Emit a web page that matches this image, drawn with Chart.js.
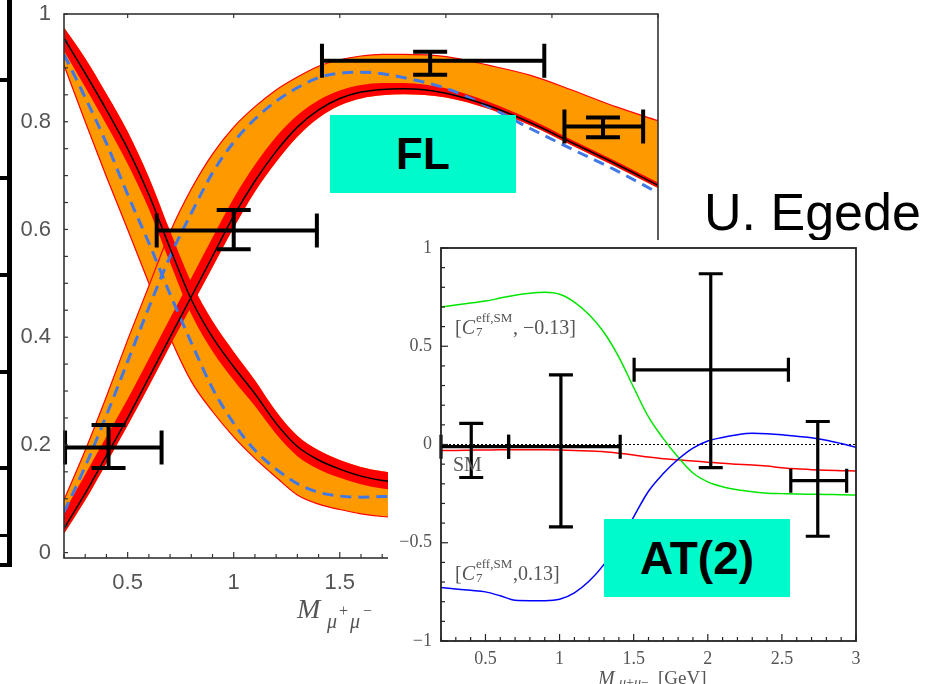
<!DOCTYPE html>
<html>
<head>
<meta charset="utf-8">
<script src="https://cdn.jsdelivr.net/npm/chart.js@4.4.1/dist/chart.umd.min.js"></script>
<style>
body { margin: 0; width: 938px; height: 684px; overflow: hidden; position: relative; background: #fff; font-family: 'Liberation Sans', Arial, sans-serif; }
.abs { position: absolute; line-height: 1; white-space: nowrap; }
.serif { font-family: 'Liberation Serif', 'Times New Roman', serif; color: #555; }
.tag { position: absolute; background: #00FACC; display: flex; align-items: center; justify-content: center; font-weight: bold; color: #000; }
.bar { position: absolute; background: #000; }
canvas { position: absolute; left: 0; }
</style>
</head>
<body>

<div class="bar" style="left:7px;top:0;width:5px;height:567px"></div>
<div class="bar" style="left:0;top:78px;width:12px;height:4px"></div>
<div class="bar" style="left:0;top:176px;width:12px;height:4px"></div>
<div class="bar" style="left:0;top:273px;width:12px;height:4px"></div>
<div class="bar" style="left:0;top:370px;width:12px;height:4px"></div>
<div class="bar" style="left:0;top:466px;width:12px;height:4px"></div>
<div class="bar" style="left:0;top:534px;width:12px;height:3px"></div>
<div class="bar" style="left:0;top:563px;width:12px;height:4px"></div>

<canvas id="flChart" width="700" height="640" style="top:0"></canvas>

<div class="abs serif" style="left:297px;top:595px;font-size:28px"><i>M</i></div>
<div class="abs serif" style="left:327px;top:611px;font-size:20px"><i>μ</i></div>
<div class="abs serif" style="left:339px;top:603px;font-size:16px">+</div>
<div class="abs serif" style="left:350px;top:611px;font-size:20px"><i>μ</i></div>
<div class="abs serif" style="left:363px;top:603px;font-size:16px">−</div>

<div class="tag" style="left:330px;top:115px;width:186px;height:78px;font-size:44px">FL</div>
<div class="abs" style="left:704px;top:186px;font-size:52px;color:#000">U. Egede</div>

<div id="inset" style="position:absolute;left:388px;top:240px;width:550px;height:444px;background:#fff">
  <canvas id="atChart" width="550" height="456" style="top:-12px"></canvas>
</div>

<div class="abs serif" style="left:455px;top:317px;font-size:20px">[<i>C</i></div>
<div class="abs serif" style="left:476px;top:311px;font-size:13px">eff,SM</div>
<div class="abs serif" style="left:476px;top:325px;font-size:13px">7</div>
<div class="abs serif" style="left:513px;top:317px;font-size:20px">, −0.13]</div>

<div class="abs serif" style="left:453px;top:454px;font-size:20px">SM</div>

<div class="abs serif" style="left:455px;top:563px;font-size:20px">[<i>C</i></div>
<div class="abs serif" style="left:476px;top:557px;font-size:13px">eff,SM</div>
<div class="abs serif" style="left:476px;top:571px;font-size:13px">7</div>
<div class="abs serif" style="left:513px;top:563px;font-size:20px">,0.13]</div>

<div class="abs serif" style="left:598px;top:668px;font-size:20px"><i>M</i></div>
<div class="abs serif" style="left:619px;top:676px;font-size:14px"><i>μ</i>+<i>μ</i>−</div>
<div class="abs serif" style="left:658px;top:668px;font-size:19px">[GeV]</div>

<div class="tag" style="left:604px;top:519px;width:186px;height:78px;font-size:46px">AT(2)</div>

<script>
// FL plot: mass bins and curves
const flX = [0.2, 0.3, 0.4, 0.5, 0.6, 0.7, 0.8, 0.9, 1.0, 1.1, 1.2, 1.3, 1.4, 1.5, 1.6, 1.7, 1.8, 2.0, 2.2, 2.4, 2.6, 2.8, 3.0];
const flUpper   = [0.098, 0.19, 0.29, 0.395, 0.495, 0.595, 0.675, 0.74, 0.79, 0.828, 0.859, 0.883, 0.903, 0.915, 0.922, 0.925, 0.925, 0.921, 0.905, 0.886, 0.858, 0.828, 0.802];
const flCentral = [0.045, 0.11, 0.18, 0.25, 0.325, 0.40, 0.475, 0.55, 0.625, 0.69, 0.745, 0.79, 0.822, 0.843, 0.855, 0.86, 0.861, 0.853, 0.83, 0.798, 0.76, 0.722, 0.682];
const flRedHi   = [0.075, 0.145, 0.215, 0.285, 0.36, 0.435, 0.51, 0.585, 0.658, 0.72, 0.772, 0.812, 0.84, 0.858, 0.868, 0.872, 0.872, 0.862, 0.837, 0.804, 0.765, 0.727, 0.687];
const flRedLo   = [0.035, 0.097, 0.166, 0.236, 0.309, 0.384, 0.457, 0.53, 0.603, 0.67, 0.725, 0.772, 0.807, 0.83, 0.843, 0.849, 0.851, 0.845, 0.824, 0.793, 0.755, 0.717, 0.677];
const flAlt     = [0.075, 0.16, 0.255, 0.355, 0.455, 0.55, 0.63, 0.705, 0.762, 0.805, 0.838, 0.863, 0.882, 0.89, 0.892, 0.889, 0.882, 0.862, 0.828, 0.787, 0.748, 0.71, 0.668];

const ftX = [0.2, 0.3, 0.4, 0.5, 0.6, 0.7, 0.8, 0.9, 1.0, 1.1, 1.2, 1.3, 1.4, 1.5, 1.6, 1.7, 1.8];
const ftCentral = [0.955, 0.89, 0.822, 0.75, 0.665, 0.565, 0.47, 0.40, 0.345, 0.295, 0.24, 0.197, 0.172, 0.155, 0.142, 0.134, 0.13];
const ftRedHi   = [0.975, 0.918, 0.852, 0.782, 0.697, 0.597, 0.502, 0.43, 0.373, 0.32, 0.262, 0.217, 0.19, 0.172, 0.159, 0.151, 0.147];
const ftRedLo   = [0.932, 0.864, 0.795, 0.722, 0.638, 0.538, 0.443, 0.374, 0.32, 0.272, 0.22, 0.179, 0.155, 0.139, 0.127, 0.119, 0.115];
const ftLower   = [0.905, 0.80, 0.698, 0.60, 0.50, 0.40, 0.318, 0.262, 0.215, 0.175, 0.14, 0.107, 0.09, 0.08, 0.072, 0.067, 0.065];
const ftAlt     = [0.925, 0.845, 0.76, 0.665, 0.575, 0.48, 0.39, 0.305, 0.24, 0.19, 0.155, 0.128, 0.112, 0.105, 0.103, 0.104, 0.105];

// FL measurements
const flErrX   = [0.41, 1.0, 1.926, 2.741];
const flErrY   = [0.195, 0.598, 0.913, 0.791];
const flErrXlo = [0.205, 0.637, 1.416, 2.559];
const flErrXhi = [0.66, 1.392, 2.464, 2.93];
const flErrYlo = [0.157, 0.563, 0.887, 0.771];
const flErrYhi = [0.237, 0.636, 0.93, 0.808];

const flXTicks = [0.5, 1, 1.5, 2, 2.5, 3];
const flXLabels = ['0.5', '1', '1.5', '2', '2.5', '3'];
const flYTicks = [0, 0.2, 0.4, 0.6, 0.8, 1];
const flYLabels = ['0', '0.2', '0.4', '0.6', '0.8', '1'];

// AT(2) inset
const atX = [0.2, 0.3, 0.4, 0.5, 0.6, 0.7, 0.8, 0.9, 1.0, 1.1, 1.2, 1.3, 1.4, 1.5, 1.6, 1.7, 1.8, 1.9, 2.0, 2.1, 2.2, 2.3, 2.4, 2.5, 2.6, 2.7, 2.8, 2.9, 3.0];
const atSM    = [-0.03, -0.03, -0.029, -0.028, -0.027, -0.027, -0.027, -0.027, -0.028, -0.03, -0.033, -0.037, -0.044, -0.053, -0.064, -0.072, -0.078, -0.084, -0.09, -0.096, -0.1, -0.104, -0.11, -0.118, -0.124, -0.128, -0.131, -0.133, -0.135];
const atMinus = [0.70, 0.71, 0.72, 0.73, 0.745, 0.76, 0.77, 0.775, 0.765, 0.725, 0.66, 0.57, 0.445, 0.29, 0.14, 0.03, -0.065, -0.145, -0.19, -0.215, -0.23, -0.24, -0.248, -0.25, -0.252, -0.253, -0.254, -0.256, -0.257];
const atPlus  = [-0.728, -0.735, -0.742, -0.75, -0.77, -0.793, -0.795, -0.795, -0.788, -0.755, -0.695, -0.61, -0.50, -0.368, -0.238, -0.148, -0.075, -0.018, 0.018, 0.036, 0.05, 0.057, 0.055, 0.05, 0.042, 0.034, 0.022, 0.005, -0.014];

const atErrX   = [0.404, 1.009, 2.02, 2.742];
const atErrY   = [-0.011, -0.011, 0.38, -0.184];
const atErrXlo = [0.2, 0.656, 1.503, 2.56];
const atErrXhi = [0.656, 1.409, 2.544, 2.937];
const atErrYlo = [-0.168, -0.419, -0.118, -0.467];
const atErrYhi = [0.108, 0.354, 0.869, 0.117];

const atXTicks = [0.5, 1, 1.5, 2, 2.5, 3];
const atXLabels = ['0.5', '1', '1.5', '2', '2.5', '3'];
const atYTicks = [-1, -0.5, 0, 0.5, 1];
const atYLabels = ['−1', '−0.5', '0', '0.5', '1'];

const ORANGE = '#FF9900';
const RED = '#FF0000';
const BLUE = '#4079E6';

function pts(xs, ys) {
    return ys.map((y, i) => ({ x: xs[i], y: y }));
}

function curve(xs, ys, extra) {
    return Object.assign({
        data: pts(xs, ys),
        pointRadius: 0,
        borderWidth: 0,
        borderColor: 'rgba(0,0,0,0)',
        fill: false,
        cubicInterpolationMode: 'monotone'
    }, extra);
}

// box round the plot area plus inward tick marks
function framePlugin(frame) {
    return {
        id: 'frame',
        afterDraw(chart) {
            const { ctx, chartArea: a, scales } = chart;
            ctx.save();
            ctx.strokeStyle = frame.color;
            ctx.lineWidth = frame.width;
            ctx.strokeRect(a.left, a.top, a.right - a.left, a.bottom - a.top);
            ctx.lineWidth = frame.tickWidth;
            frame.marks.forEach(m => {
                const vertical = m.side === 'left' || m.side === 'right';
                const sc = vertical ? scales.y : scales.x;
                for (let i = 0; i < 200; i++) {
                    const v = m.from + i * m.step;
                    if (v > sc.max + 1e-9) break;
                    if (v < sc.min - 1e-9) continue;
                    const isMajor = m.major && Math.abs(v / m.major - Math.round(v / m.major)) < 1e-6;
                    const len = isMajor ? m.majorLen : m.len;
                    const p = sc.getPixelForValue(v);
                    ctx.beginPath();
                    if (m.side === 'left') { ctx.moveTo(a.left, p); ctx.lineTo(a.left + len, p); }
                    if (m.side === 'right') { ctx.moveTo(a.right, p); ctx.lineTo(a.right - len, p); }
                    if (m.side === 'bottom') { ctx.moveTo(p, a.bottom); ctx.lineTo(p, a.bottom - len); }
                    if (m.side === 'top') { ctx.moveTo(p, a.top); ctx.lineTo(p, a.top + len); }
                    ctx.stroke();
                }
            });
            ctx.restore();
        }
    };
}

function errorBarPlugin(e) {
    return {
        id: 'errorBars',
        afterDatasetsDraw(chart) {
            const { ctx, scales: { x, y } } = chart;
            ctx.save();
            ctx.strokeStyle = '#000';
            ctx.lineWidth = e.width;
            ctx.lineCap = 'butt';
            e.x.forEach((xv, i) => {
                const px = x.getPixelForValue(xv);
                const py = y.getPixelForValue(e.y[i]);
                const x0 = x.getPixelForValue(e.xlo[i]);
                const x1 = x.getPixelForValue(e.xhi[i]);
                const y0 = y.getPixelForValue(e.ylo[i]);
                const y1 = y.getPixelForValue(e.yhi[i]);
                const c = e.cap;
                ctx.beginPath();
                ctx.moveTo(x0, py); ctx.lineTo(x1, py);
                ctx.moveTo(px, y0); ctx.lineTo(px, y1);
                ctx.moveTo(x0, py - c); ctx.lineTo(x0, py + c);
                ctx.moveTo(x1, py - c); ctx.lineTo(x1, py + c);
                ctx.moveTo(px - c, y0); ctx.lineTo(px + c, y0);
                ctx.moveTo(px - c, y1); ctx.lineTo(px + c, y1);
                ctx.stroke();
            });
            ctx.restore();
        }
    };
}

function axis(min, max, ticks, labels, font, pad, size, horizontal) {
    return {
        type: 'linear',
        min: min,
        max: max,
        grid: { display: false, drawTicks: false },
        border: { display: false },
        afterBuildTicks: s => { s.ticks = ticks.map(v => ({ value: v })); },
        afterFit: s => {
            // fixed axis size, no label overhang so the plot box stays put
            if (horizontal) s.height = size; else s.width = size;
            s.paddingTop = 0; s.paddingBottom = 0; s.paddingLeft = 0; s.paddingRight = 0;
        },
        ticks: {
            callback: (v, i) => labels[i],
            font: font,
            color: '#555',
            padding: pad,
            maxRotation: 0,
            autoSkip: false
        }
    };
}

const flFont = { family: 'Liberation Sans', size: 22 };

new Chart(document.getElementById('flChart'), {
    type: 'line',
    data: {
        datasets: [
            curve(ftX, ftLower, { fill: 2, backgroundColor: ORANGE, borderColor: RED, borderWidth: 1.2, order: 9 }),
            curve(flX, flUpper, { fill: 5, backgroundColor: ORANGE, borderColor: RED, borderWidth: 1.2, order: 8 }),
            curve(ftX, ftRedHi, { fill: 3, backgroundColor: RED, order: 7 }),
            curve(ftX, ftRedLo, { order: 7 }),
            curve(flX, flRedHi, { fill: 5, backgroundColor: RED, order: 6 }),
            curve(flX, flRedLo, { order: 6 }),
            curve(ftX, ftAlt, { borderColor: BLUE, borderWidth: 3, borderDash: [11, 7], order: 3 }),
            curve(flX, flAlt, { borderColor: BLUE, borderWidth: 3, borderDash: [11, 7], order: 3 }),
            curve(ftX, ftCentral, { borderColor: '#000', borderWidth: 1.5, order: 1 }),
            curve(flX, flCentral, { borderColor: '#000', borderWidth: 1.5, order: 1 })
        ]
    },
    options: {
        responsive: false,
        animation: false,
        devicePixelRatio: 1,
        events: [],
        layout: { padding: { top: 14, right: 42, left: 0, bottom: 0 } },
        plugins: { legend: { display: false }, tooltip: { enabled: false } },
        scales: {
            x: axis(0.2, 3.0, flXTicks, flXLabels, flFont, 12, 82, true),
            y: axis(-0.01, 1.0, flYTicks, flYLabels, flFont, 13, 64, false)
        }
    },
    plugins: [
        framePlugin({ color: '#333', width: 1.6, tickWidth: 1.2, marks: [
            { side: 'left', from: 0, step: 0.05, len: 4 },
            { side: 'bottom', from: 0.2, step: 0.1, len: 4, major: 0.5, majorLen: 6 },
            { side: 'top', from: 0.5, step: 0.5, len: 4 }
        ] }),
        errorBarPlugin({ x: flErrX, y: flErrY, xlo: flErrXlo, xhi: flErrXhi, ylo: flErrYlo, yhi: flErrYhi, cap: 17, width: 4 })
    ]
});

const atFont = { family: 'Liberation Serif', size: 18 };

new Chart(document.getElementById('atChart'), {
    type: 'line',
    data: {
        datasets: [
            curve([0.2, 3.0], [0, 0], { borderColor: '#000', borderWidth: 1, borderDash: [2, 2], order: 5 }),
            curve(atX, atSM, { borderColor: RED, borderWidth: 1.5, order: 3 }),
            curve(atX, atMinus, { borderColor: '#00E600', borderWidth: 1.5, order: 2 }),
            curve(atX, atPlus, { borderColor: '#0000FF', borderWidth: 1.5, order: 1 })
        ]
    },
    options: {
        responsive: false,
        animation: false,
        devicePixelRatio: 1,
        events: [],
        layout: { padding: { top: 20, right: 82, left: 0, bottom: 0 } },
        plugins: { legend: { display: false }, tooltip: { enabled: false } },
        scales: {
            x: axis(0.2, 3.0, atXTicks, atXLabels, atFont, 7, 43, true),
            y: axis(-1, 1, atYTicks, atYLabels, atFont, 9, 53, false)
        }
    },
    plugins: [
        framePlugin({ color: '#222', width: 1.8, tickWidth: 1.2, marks: [
            { side: 'left', from: -1, step: 0.1, len: 4, major: 0.5, majorLen: 7 },
            { side: 'bottom', from: 0.2, step: 0.1, len: 4, major: 0.5, majorLen: 7 }
        ] }),
        errorBarPlugin({ x: atErrX, y: atErrY, xlo: atErrXlo, xhi: atErrXhi, ylo: atErrYlo, yhi: atErrYhi, cap: 12, width: 3.2 })
    ]
});
</script>
</body>
</html>
